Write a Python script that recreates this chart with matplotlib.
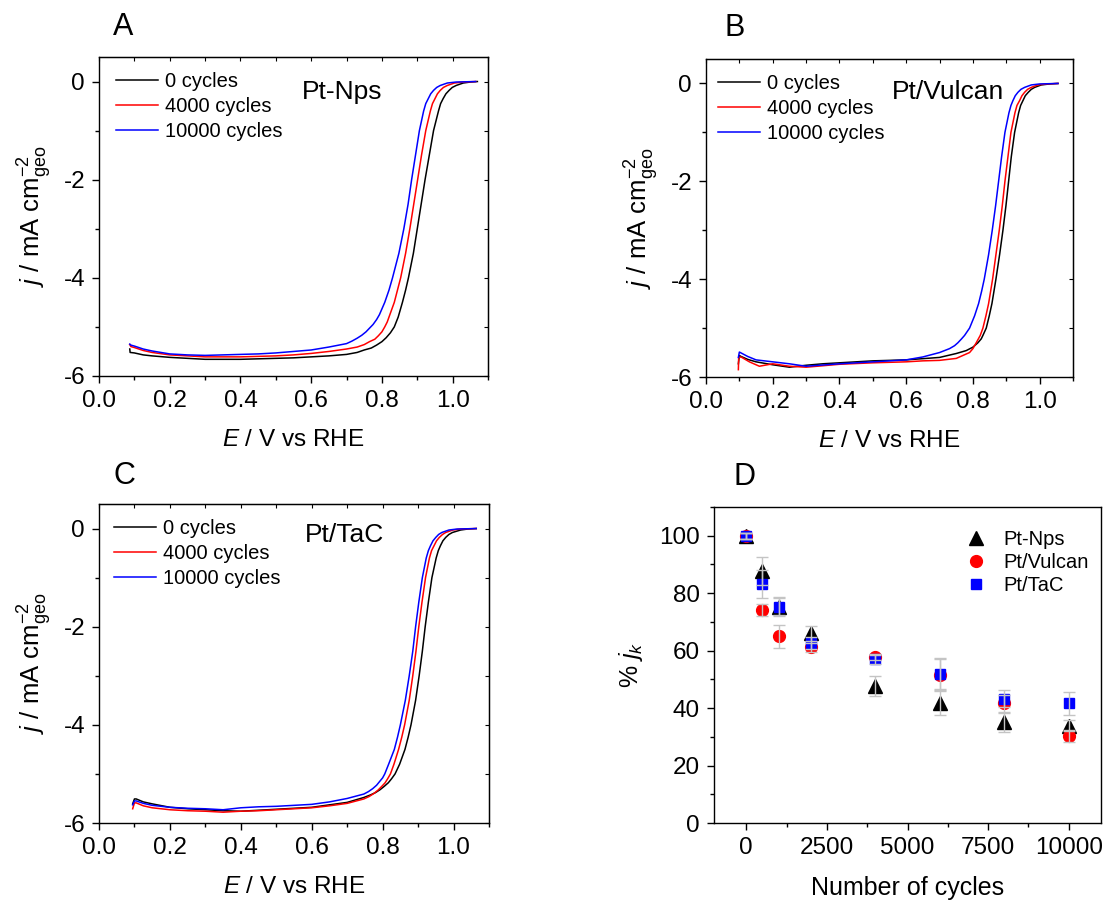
import numpy as np
import matplotlib
matplotlib.use("Agg")
import matplotlib.pyplot as plt
from matplotlib.ticker import MultipleLocator

plt.rcParams['font.family'] = ['Liberation Sans', 'DejaVu Sans']
plt.rcParams['mathtext.fontset'] = 'custom'
plt.rcParams['mathtext.rm'] = 'Liberation Sans'
plt.rcParams['mathtext.it'] = 'Liberation Sans:italic'
plt.rcParams['axes.unicode_minus'] = False

# ---- panel A : Pt-Nps  (E / V, j / mA cm-2) ----
a_e0 = [0.087, 0.088, 0.1, 0.125, 0.15, 0.2, 0.25, 0.3, 0.35, 0.4, 0.45, 0.5, 0.55, 0.6, 0.65, 0.7, 0.73, 0.75,
        0.77, 0.785, 0.80, 0.812, 0.824, 0.835, 0.846, 0.858, 0.867, 0.875, 0.889, 0.90, 0.911, 0.922, 0.934,
        0.946, 0.96, 0.966, 0.973, 0.981, 0.99, 0.999, 1.01, 1.03, 1.05, 1.07]
a_j0 = [-5.45, -5.52, -5.53, -5.57, -5.59, -5.62, -5.64, -5.66, -5.66, -5.66, -5.65, -5.64, -5.63, -5.61, -5.59, -5.56,
        -5.52, -5.47, -5.43, -5.37, -5.30, -5.22, -5.12, -5.0, -4.8, -4.5, -4.25, -4.0, -3.5, -3.0, -2.5, -2.0, -1.5,
        -1.0, -0.6, -0.45, -0.35, -0.25, -0.18, -0.12, -0.08, -0.03, -0.01, 0.0]
a_e1 = [0.087, 0.09, 0.1, 0.125, 0.15, 0.2, 0.25, 0.3, 0.35, 0.4, 0.45, 0.5, 0.55, 0.6, 0.65, 0.7, 0.73, 0.75,
        0.765, 0.78, 0.79, 0.80, 0.808, 0.815, 0.825, 0.835, 0.844, 0.853, 0.867, 0.879, 0.89, 0.901, 0.912,
        0.924, 0.937, 0.943, 0.95, 0.957, 0.965, 0.974, 0.985, 1.005, 1.03, 1.065]
a_j1 = [-5.36, -5.40, -5.42, -5.48, -5.52, -5.57, -5.59, -5.61, -5.61, -5.61, -5.60, -5.59, -5.57, -5.54, -5.50, -5.45,
        -5.41, -5.36, -5.30, -5.25, -5.18, -5.10, -5.0, -4.9, -4.7, -4.5, -4.25, -4.0, -3.5, -3.0, -2.5, -2.0, -1.5,
        -1.0, -0.6, -0.45, -0.35, -0.25, -0.18, -0.12, -0.08, -0.03, -0.01, 0.0]
a_e2 = [0.087, 0.09, 0.1, 0.125, 0.15, 0.2, 0.25, 0.3, 0.35, 0.4, 0.45, 0.5, 0.55, 0.6, 0.65, 0.7, 0.715, 0.73,
        0.743, 0.755, 0.775, 0.785, 0.793, 0.808, 0.82, 0.83, 0.848, 0.862, 0.874, 0.884, 0.895, 0.906, 0.918,
        0.924, 0.931, 0.938, 0.946, 0.955, 0.965, 0.985, 1.01, 1.065]
a_j2 = [-5.35, -5.37, -5.39, -5.45, -5.49, -5.55, -5.57, -5.58, -5.57, -5.56, -5.55, -5.53, -5.50, -5.47, -5.41, -5.34,
        -5.29, -5.23, -5.17, -5.10, -4.95, -4.85, -4.75, -4.5, -4.25, -4.0, -3.5, -3.0, -2.5, -2.0, -1.5, -1.0, -0.6,
        -0.45, -0.35, -0.25, -0.18, -0.12, -0.08, -0.03, -0.01, 0.0]

# ---- panel B : Pt/Vulcan ----
b_e0 = [0.097, 0.1, 0.105, 0.125, 0.15, 0.2, 0.25, 0.3, 0.35, 0.4, 0.5, 0.6, 0.7, 0.75, 0.78, 0.8, 0.815, 0.825,
        0.83, 0.84, 0.849, 0.857, 0.863, 0.869, 0.88, 0.89, 0.899, 0.907, 0.915, 0.925, 0.937, 0.943, 0.95, 0.957,
        0.966, 0.975, 0.985, 1.005, 1.03, 1.055]
b_j0 = [-5.73, -5.56, -5.58, -5.64, -5.69, -5.75, -5.80, -5.76, -5.73, -5.71, -5.67, -5.65, -5.60, -5.52, -5.46, -5.39,
        -5.30, -5.22, -5.15, -5.0, -4.75, -4.5, -4.25, -4.0, -3.5, -3.0, -2.5, -2.0, -1.5, -1.0, -0.6, -0.45, -0.35,
        -0.25, -0.18, -0.12, -0.08, -0.03, -0.01, 0.0]
b_e1 = [0.097, 0.098, 0.105, 0.13, 0.16, 0.2, 0.25, 0.3, 0.4, 0.5, 0.6, 0.65, 0.7, 0.75, 0.79, 0.80, 0.81,
        0.822, 0.83, 0.839, 0.847, 0.853, 0.859, 0.869, 0.879, 0.888, 0.896, 0.905, 0.914, 0.926, 0.932, 0.94,
        0.947, 0.955, 0.964, 0.975, 0.995, 1.02, 1.055]
b_j1 = [-5.85, -5.60, -5.59, -5.69, -5.78, -5.73, -5.78, -5.80, -5.74, -5.71, -5.69, -5.67, -5.66, -5.62, -5.50, -5.42,
        -5.30, -5.15, -5.0, -4.75, -4.5, -4.25, -4.0, -3.5, -3.0, -2.5, -2.0, -1.5, -1.0, -0.6, -0.45, -0.35, -0.25,
        -0.18, -0.12, -0.08, -0.03, -0.01, 0.0]
b_e2 = [0.097, 0.1, 0.125, 0.15, 0.2, 0.25, 0.3, 0.4, 0.5, 0.6, 0.65, 0.7, 0.73, 0.745, 0.755, 0.766, 0.775,
        0.79, 0.805, 0.817, 0.826, 0.834, 0.847, 0.858, 0.868, 0.877, 0.886, 0.896, 0.908, 0.914, 0.92, 0.927,
        0.935, 0.944, 0.955, 0.975, 1.0, 1.055]
b_j2 = [-5.60, -5.49, -5.58, -5.65, -5.69, -5.73, -5.78, -5.73, -5.69, -5.65, -5.59, -5.50, -5.42, -5.36, -5.30, -5.22,
        -5.15, -5.0, -4.75, -4.5, -4.25, -4.0, -3.5, -3.0, -2.5, -2.0, -1.5, -1.0, -0.6, -0.45, -0.35, -0.25, -0.18,
        -0.12, -0.08, -0.03, -0.01, 0.0]

# ---- panel C : Pt/TaC ----
c_e0 = [0.095, 0.1, 0.105, 0.125, 0.15, 0.2, 0.25, 0.3, 0.35, 0.4, 0.45, 0.5, 0.55, 0.6, 0.65, 0.7, 0.747, 0.765,
        0.78, 0.793, 0.805, 0.816, 0.825, 0.835, 0.848, 0.863, 0.872, 0.88, 0.893, 0.903, 0.912, 0.92, 0.929,
        0.939, 0.951, 0.957, 0.963, 0.97, 0.978, 0.987, 0.997, 1.02, 1.04, 1.064]
c_j0 = [-5.61, -5.51, -5.51, -5.57, -5.61, -5.68, -5.71, -5.73, -5.75, -5.76, -5.74, -5.72, -5.70, -5.68, -5.63, -5.58,
        -5.48, -5.43, -5.38, -5.32, -5.25, -5.18, -5.10, -5.0, -4.8, -4.5, -4.25, -4.0, -3.5, -3.0, -2.5, -2.0, -1.5,
        -1.0, -0.6, -0.45, -0.35, -0.25, -0.18, -0.12, -0.08, -0.03, -0.01, 0.0]
c_e1 = [0.095, 0.1, 0.105, 0.125, 0.15, 0.2, 0.25, 0.3, 0.35, 0.4, 0.45, 0.5, 0.55, 0.6, 0.65, 0.7, 0.747, 0.762,
        0.775, 0.787, 0.798, 0.807, 0.814, 0.822, 0.832, 0.845, 0.854, 0.862, 0.875, 0.885, 0.894, 0.902, 0.911,
        0.921, 0.932, 0.938, 0.945, 0.952, 0.96, 0.969, 0.978, 0.998, 1.02, 1.064]
c_j1 = [-5.71, -5.59, -5.59, -5.65, -5.69, -5.73, -5.75, -5.76, -5.78, -5.76, -5.75, -5.73, -5.71, -5.69, -5.65, -5.60,
        -5.51, -5.46, -5.40, -5.33, -5.25, -5.18, -5.10, -5.0, -4.8, -4.5, -4.25, -4.0, -3.5, -3.0, -2.5, -2.0, -1.5,
        -1.0, -0.6, -0.45, -0.35, -0.25, -0.18, -0.12, -0.08, -0.03, -0.01, 0.0]
c_e2 = [0.095, 0.1, 0.105, 0.125, 0.15, 0.2, 0.25, 0.3, 0.35, 0.4, 0.45, 0.5, 0.55, 0.6, 0.65, 0.7, 0.747, 0.76,
        0.772, 0.783, 0.792, 0.8, 0.806, 0.817, 0.833, 0.842, 0.85, 0.864, 0.875, 0.885, 0.893, 0.902, 0.912,
        0.923, 0.929, 0.935, 0.942, 0.95, 0.958, 0.967, 0.987, 1.01, 1.064]
c_j2 = [-5.63, -5.55, -5.55, -5.60, -5.64, -5.68, -5.70, -5.71, -5.73, -5.69, -5.67, -5.66, -5.64, -5.62, -5.57, -5.50,
        -5.41, -5.36, -5.30, -5.23, -5.15, -5.08, -5.0, -4.8, -4.5, -4.25, -4.0, -3.5, -3.0, -2.5, -2.0, -1.5, -1.0,
        -0.6, -0.45, -0.35, -0.25, -0.18, -0.12, -0.08, -0.03, -0.01, 0.0]

cycle_labels = ['0 cycles', '4000 cycles', '10000 cycles']
line_colors = ['black', 'red', 'blue']

# ---- panel D : % jk vs number of cycles ----
n_cycles = [0, 500, 1000, 2000, 4000, 6000, 8000, 10000]
jk_nps = [100, 87.8, 75.3, 66.0, 47.7, 41.9, 35.0, 33.9]
jk_nps_err = [1.0, 4.8, 3.4, 2.5, 3.5, 4.4, 3.3, 2.0]
jk_vulcan = [100, 74.2, 65.0, 61.1, 57.8, 51.5, 41.6, 30.2]
jk_vulcan_err = [1.0, 2.0, 4.0, 1.5, 1.0, 5.5, 3.0, 2.0]
jk_tac = [100, 83.2, 75.3, 62.7, 57.0, 52.0, 43.3, 41.6]
jk_tac_err = [1.0, 5.0, 3.0, 2.0, 1.5, 5.5, 3.0, 4.0]

W, H = 1108, 901
fig = plt.figure(figsize=(W / 100, H / 100), dpi=100)


def fx(px):
    return px / W


def fy(py):
    return 1 - py / H


def add_ax(left, top, right, bottom):
    return fig.add_axes([fx(left), fy(bottom), (right - left) / W, (bottom - top) / H])


TICK = 17.5


def style_lsv(ax, curves, name, name_xy, leg_xy):
    for (e, j), c, lab in zip(curves, line_colors, cycle_labels):
        ax.plot(e, j, color=c, lw=1.1, label=lab)
    ax.set_xlim(0, 1.1)
    ax.set_ylim(-6, 0.5)
    ax.xaxis.set_major_locator(MultipleLocator(0.2))
    ax.xaxis.set_minor_locator(MultipleLocator(0.1))
    ax.yaxis.set_major_locator(MultipleLocator(2))
    ax.yaxis.set_minor_locator(MultipleLocator(1))
    ax.xaxis.set_major_formatter(matplotlib.ticker.FormatStrFormatter('%.1f'))
    ax.tick_params(which='major', direction='out', length=5, width=1, labelsize=TICK, pad=5)
    ax.tick_params(which='minor', direction='out', length=3, width=1)
    ax.tick_params(which='both', top=False, right=False)
    for s in ax.spines.values():
        s.set_linewidth(1.0)
    ax.set_xlabel(r'$E$ / V vs RHE', fontsize=17.5, labelpad=12)
    ax.set_ylabel(r'$j$ / mA cm$^{-2}_{\mathrm{geo}}$', fontsize=18.5, labelpad=7)
    # inner ticks on top and right, as in the original
    top = ax.secondary_xaxis('top')
    top.xaxis.set_major_locator(MultipleLocator(0.1))
    top.tick_params(direction='in', length=3, labeltop=False)
    right = ax.secondary_yaxis('right')
    right.yaxis.set_major_locator(MultipleLocator(1))
    right.tick_params(direction='in', length=3, labelright=False)
    ax.legend(loc='upper left', bbox_to_anchor=(fx(leg_xy[0]), fy(leg_xy[1])),
              bbox_transform=fig.transFigure, frameon=False, fontsize=14.5,
              handlelength=2.1, handletextpad=0.35, labelspacing=0.3, borderpad=0)
    fig.text(fx(name_xy[0]), fy(name_xy[1]), name, fontsize=19, ha='center', va='center')


axA = add_ax(99, 57, 488, 376)
style_lsv(axA, [(a_e0, a_j0), (a_e1, a_j1), (a_e2, a_j2)], 'Pt-Nps', (342, 92), (106, 62))
axB = add_ax(706, 59, 1073, 377)
style_lsv(axB, [(b_e0, b_j0), (b_e1, b_j1), (b_e2, b_j2)], 'Pt/Vulcan', (948, 92), (708, 64))
axC = add_ax(99, 504, 489, 823)
style_lsv(axC, [(c_e0, c_j0), (c_e1, c_j1), (c_e2, c_j2)], 'Pt/TaC', (344, 535), (104, 509))

# panel D
axD = add_ax(714, 507, 1101, 823)
series = [(jk_nps, jk_nps_err, '^', 'black', 10.5, 'Pt-Nps'),
          (jk_vulcan, jk_vulcan_err, 'o', 'red', 8.5, 'Pt/Vulcan'),
          (jk_tac, jk_tac_err, 's', 'blue', 7.5, 'Pt/TaC')]
for vals, err, m, c, ms, lab in series:
    axD.plot(n_cycles, vals, ls='none', marker=m, color=c, ms=ms, mec=c, label=lab, zorder=3)
    axD.errorbar(n_cycles, vals, yerr=err, fmt='none', ecolor='#c4c4c4', elinewidth=1.0,
                 capsize=4, capthick=1.0, zorder=4)
axD.set_xlim(-1000, 11000)
axD.set_ylim(0, 110)
axD.xaxis.set_major_locator(MultipleLocator(2500))
axD.xaxis.set_minor_locator(MultipleLocator(1250))
axD.yaxis.set_major_locator(MultipleLocator(20))
axD.yaxis.set_minor_locator(MultipleLocator(10))
axD.tick_params(which='major', direction='out', length=5, width=1, labelsize=TICK, pad=5)
axD.tick_params(which='minor', direction='out', length=3, width=1)
for s in axD.spines.values():
    s.set_linewidth(1.0)
axD.set_xlabel('Number of cycles', fontsize=18, labelpad=12)
axD.set_ylabel(r'% $j_k$', fontsize=18, labelpad=10)
axD.legend(loc='upper left', bbox_to_anchor=(fx(956), fy(520)), bbox_transform=fig.transFigure,
           frameon=False, fontsize=14.5, numpoints=1, handlelength=1.0, handletextpad=0.85,
           labelspacing=0.2, borderpad=0)

for letter, (px, py) in zip('ABCD', [(123, 27), (735, 28), (124, 476), (744, 477)]):
    fig.text(fx(px), fy(py), letter, fontsize=22, ha='center', va='center')

fig.savefig('out.png', dpi=100)
